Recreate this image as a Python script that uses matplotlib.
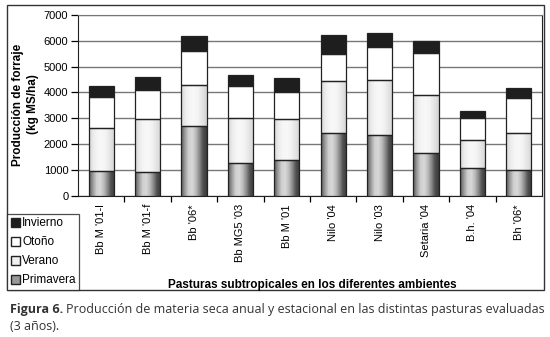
import numpy as np
import matplotlib
matplotlib.use('Agg')
from matplotlib import pyplot as plt
from matplotlib.patches import Rectangle, Patch
from matplotlib.colors import LinearSegmentedColormap

# data (kg MS/ha per season)
pasturas = ["Bb M '01-l", "Bb M '01-f", "Bb '06*", "Bb MG5 '03", "Bb M '01",
            "Nilo '04", "Nilo '03", "Setaria '04", "B.h. '04", "Bh '06*"]
primavera = [970, 900, 2690, 1250, 1370, 2440, 2350, 1670, 1070, 990]
verano = [1640, 2070, 1600, 1770, 1590, 2000, 2130, 2240, 1090, 1430]
otono = [1230, 1120, 1310, 1230, 1070, 1040, 1280, 1600, 840, 1350]
invierno = [420, 510, 590, 430, 530, 740, 540, 500, 290, 390]

plt.rcParams['font.family'] = ['Liberation Sans', 'DejaVu Sans']

fig = plt.figure(figsize=(5.5, 3.37), dpi=100)
ax = fig.add_axes([78/550, 1-195.7/337, (542-78)/550, (195.7-15)/337])

x = np.arange(len(pasturas))
w = 0.54

prim_cmap = LinearSegmentedColormap.from_list('prim', ['#5a5a5a', '#9a9a9a', '#cfcfcf', '#d8d8d8', '#bdbdbd', '#8a8a8a', '#505050', '#3a3a3a'])
ver_cmap = LinearSegmentedColormap.from_list('ver', ['#d6d6d6', '#ececec', '#f6f6f6', '#f8f8f8', '#f2f2f2', '#e4e4e4', '#d4d4d4'])
grad = np.linspace(0, 1, 64).reshape(1, -1)

bottom = np.zeros(len(x))
for vals, style in [(primavera, prim_cmap), (verano, ver_cmap), (otono, 'white'), (invierno, '#1e1e1e')]:
    if isinstance(style, str):
        ax.bar(x, vals, w, bottom=bottom, color=style, edgecolor='#222222', linewidth=0.9, zorder=3)
    else:
        bars = ax.bar(x, vals, w, bottom=bottom, color='none', edgecolor='#222222', linewidth=0.9, zorder=4)
        for b in bars:
            x0, y0 = b.get_x(), b.get_y()
            im = ax.imshow(grad, extent=[x0, x0 + b.get_width(), y0, y0 + b.get_height()],
                           aspect='auto', cmap=style, zorder=3, interpolation='bilinear')
            im.set_clip_path(b)
    bottom = bottom + np.array(vals)

ax.set_xlim(-0.5, len(x) - 0.5)
ax.set_ylim(0, 7000)
ax.set_yticks(range(0, 7001, 1000))
ax.yaxis.grid(True, color='#777777', linewidth=1)
ax.set_axisbelow(True)
ax.tick_params(axis='y', length=5, width=0.9, labelsize=8, pad=2)

ax.set_xticks(x)
ax.set_xticklabels(pasturas, rotation=90, fontsize=8, va='top')
ax.tick_params(axis='x', which='major', length=0, pad=6)
ax.set_xticks(x[:-1] + 0.5, minor=True)
ax.tick_params(axis='x', which='minor', length=4, width=0.9)

for s in ['left', 'bottom', 'right']:
    ax.spines[s].set_color('#222222')
ax.spines['top'].set_color('#777777')

fig.text(0.047, 0.69, 'Producción de forraje\n(kg MS/ha)', rotation=90, ha='center', va='center',
         fontsize=8.5, fontweight='bold', linespacing=1.3)
fig.text(312/550, 1-285/337, 'Pasturas subtropicales en los diferentes ambientes', ha='center', va='center',
         fontsize=8.5, fontweight='bold')

handles = [Patch(facecolor='#1e1e1e', edgecolor='#222222', label='Invierno'),
           Patch(facecolor='white', edgecolor='#222222', label='Otoño'),
           Patch(facecolor='#f0f0f0', edgecolor='#222222', label='Verano'),
           Patch(facecolor='#999999', edgecolor='#222222', label='Primavera')]
leg = fig.legend(handles=handles, loc='lower left', bbox_to_anchor=(7/550, 1-290/337),
                 fontsize=8.5, frameon=True, fancybox=False, handlelength=0.8, handleheight=0.8,
                 handletextpad=0.2, labelspacing=0.6, borderpad=0.3, borderaxespad=0)
leg.get_frame().set_edgecolor('#222222')
leg.get_frame().set_linewidth(0.9)

fig.patches.append(Rectangle((7/550, 1-290/337), (544-7)/550, (290-5)/337, transform=fig.transFigure,
                             fill=False, edgecolor='#333333', linewidth=1))

cap_font = dict(fontsize=9.0, color='#333333', va='center', family=['Open Sans', 'DejaVu Sans'])
cap = fig.text(10/550, 1-310/337, 'Figura 6.', fontweight='bold', **cap_font)
r = fig.canvas.get_renderer()
bb = cap.get_window_extent(renderer=r)
fig.text((bb.x1 + 3) / (5.5 * 100), 1-310/337,
         'Producción de materia seca anual y estacional en las distintas pasturas evaluadas', **cap_font)
fig.text(10/550, 1-326/337, '(3 años).', **cap_font)

fig.savefig('out.png', dpi=100)
